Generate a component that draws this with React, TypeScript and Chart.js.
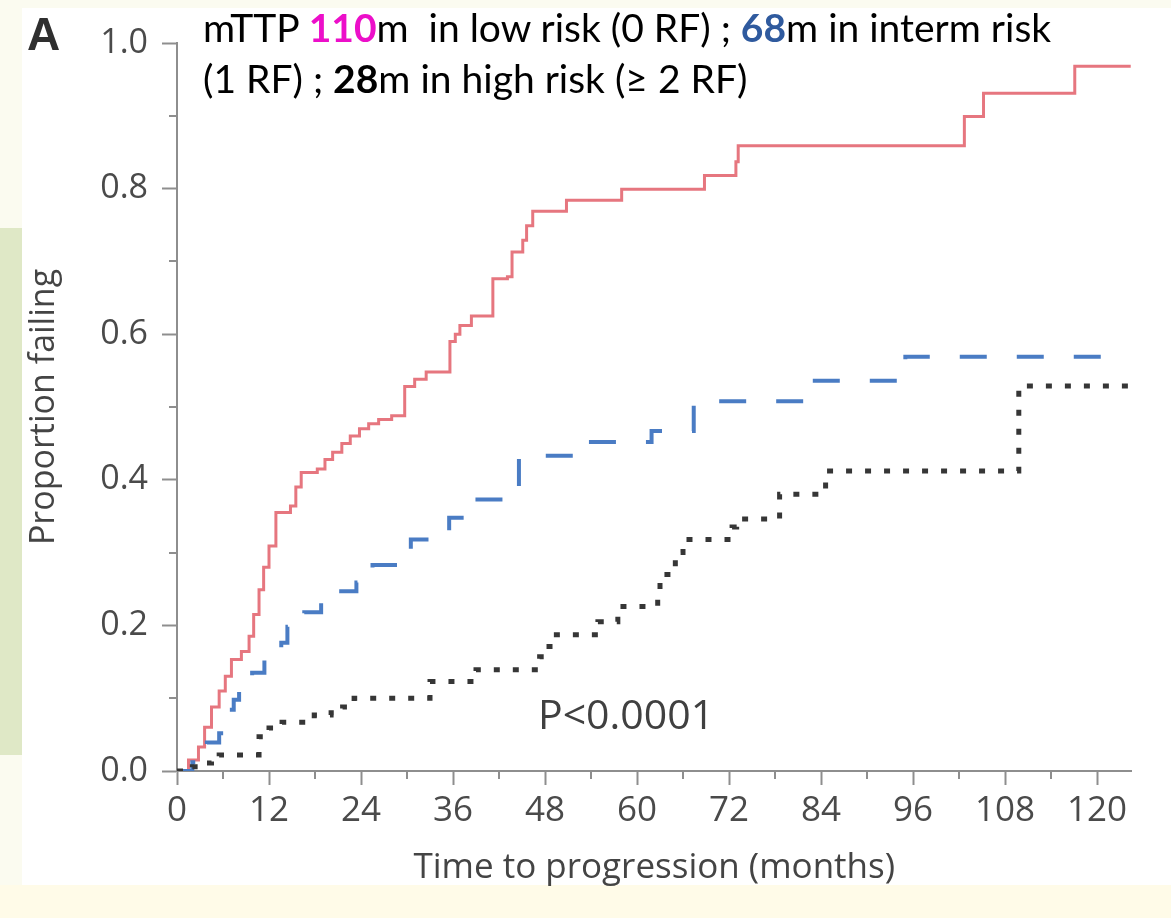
import React, { useEffect, useRef } from 'react';
import { Chart, registerables } from 'chart.js';

Chart.register(...registerables);

// Low risk (0 RF) — Kaplan-Meier step points: month of event, cumulative proportion failing after it
const lowRiskMonths = [0, 1.5, 2.8, 3.6, 4.5, 5.5, 6.3, 7.1, 8.4, 9.4, 10.0, 10.7, 11.3, 12.0, 12.9, 14.8, 15.5, 16.2, 18.3, 19.3, 20.3, 21.5, 22.6, 23.8, 25.0, 26.3, 28.0, 29.7, 31.0, 32.5, 35.6, 36.3, 36.9, 38.4, 41.2, 43.1, 43.7, 45.1, 45.6, 46.4, 50.8, 58.0, 68.8, 72.9, 73.2, 102.7, 105.2, 117.1, 124.4];
const lowRiskProportion = [0, 0.015, 0.033, 0.06, 0.088, 0.11, 0.13, 0.153, 0.164, 0.185, 0.215, 0.249, 0.28, 0.309, 0.355, 0.364, 0.39, 0.41, 0.415, 0.428, 0.438, 0.45, 0.46, 0.47, 0.477, 0.483, 0.488, 0.528, 0.538, 0.548, 0.59, 0.6, 0.612, 0.625, 0.676, 0.679, 0.713, 0.729, 0.749, 0.769, 0.784, 0.799, 0.818, 0.837, 0.859, 0.899, 0.931, 0.968, 0.968];

// Intermediate risk (1 RF)
const intermRiskMonths = [0, 2.0, 3.0, 3.9, 5.5, 6.8, 7.4, 8.1, 9.8, 11.4, 13.6, 14.4, 16.6, 18.8, 20.9, 23.4, 25.5, 30.5, 35.5, 38.3, 44.6, 52.5, 61.9, 67.4, 82.8, 95.0, 124.4];
const intermRiskProportion = [0, 0.012, 0.025, 0.039, 0.052, 0.084, 0.098, 0.112, 0.135, 0.153, 0.176, 0.198, 0.218, 0.231, 0.247, 0.259, 0.283, 0.318, 0.348, 0.373, 0.433, 0.452, 0.467, 0.508, 0.536, 0.569, 0.569];

// High risk (>= 2 RF)
const highRiskMonths = [0, 2.0, 2.8, 4.5, 5.5, 10.7, 12.0, 13.7, 17.9, 20.1, 21.6, 23.1, 33.0, 39.0, 47.3, 48.1, 49.1, 54.9, 57.5, 62.7, 63.0, 64.7, 65.0, 66.0, 72.4, 73.0, 78.6, 84.6, 109.8, 124.4];
const highRiskProportion = [0, 0.006, 0.011, 0.019, 0.022, 0.047, 0.059, 0.067, 0.077, 0.08, 0.088, 0.1, 0.123, 0.139, 0.157, 0.171, 0.187, 0.205, 0.226, 0.247, 0.27, 0.278, 0.3, 0.318, 0.335, 0.346, 0.38, 0.412, 0.529, 0.529];

const xTickValues = [0, 12, 24, 36, 48, 60, 72, 84, 96, 108, 120];
const xMinorTickValues = [6, 18, 30, 42, 54, 66, 78, 90, 102, 114];
const yTickValues = [0, 0.2, 0.4, 0.6, 0.8, 1.0];
const yMinorTickValues = [0.1, 0.3, 0.5, 0.7, 0.9];

const AXIS_COLOR = '#8e8e8e';
const LABEL_COLOR = '#4a4a4a';

const minorTicksPlugin = {
  id: 'minorTicks',
  afterDraw(chart: any) {
    const { ctx, scales } = chart;
    const xs = scales.x;
    const ys = scales.y;
    ctx.save();
    ctx.strokeStyle = AXIS_COLOR;
    ctx.lineWidth = 2;
    ctx.beginPath();
    xMinorTickValues.forEach((v) => {
      const px = Math.round(xs.getPixelForValue(v));
      ctx.moveTo(px, ys.bottom);
      ctx.lineTo(px, ys.bottom + 8);
    });
    yMinorTickValues.forEach((v) => {
      const py = Math.round(ys.getPixelForValue(v));
      ctx.moveTo(xs.left - 8, py);
      ctx.lineTo(xs.left, py);
    });
    ctx.stroke();
    ctx.restore();
  },
};

const toPoints = (xs: number[], ys: number[]) => xs.map((x, i) => ({ x, y: ys[i] }));

export default function App() {
  const canvasRef = useRef<HTMLCanvasElement>(null);

  useEffect(() => {
    const chart = new Chart(canvasRef.current as HTMLCanvasElement, {
      type: 'line',
      data: {
        datasets: [
          {
            label: 'High risk (≥ 2 RF)',
            data: toPoints(highRiskMonths, highRiskProportion),
            borderColor: '#363636',
            borderWidth: 5,
            borderDash: [6, 13],
            borderCapStyle: 'butt',
            stepped: 'before',
            pointRadius: 0,
            fill: false,
          },
          {
            label: 'Intermediate risk (1 RF)',
            data: toPoints(intermRiskMonths, intermRiskProportion),
            borderColor: '#4a7cc4',
            borderWidth: 4,
            borderDash: [27, 30],
            borderCapStyle: 'butt',
            stepped: 'before',
            pointRadius: 0,
            fill: false,
          },
          {
            label: 'Low risk (0 RF)',
            data: toPoints(lowRiskMonths, lowRiskProportion),
            borderColor: '#e6767f',
            borderWidth: 3,
            stepped: 'before',
            pointRadius: 0,
            fill: false,
          },
        ],
      },
      options: {
        responsive: false,
        animation: false,
        layout: { padding: { left: 18, top: 43, right: 39.5, bottom: 29 } },
        plugins: { legend: { display: false }, tooltip: { enabled: false } },
        scales: {
          x: {
            type: 'linear',
            min: 0,
            max: 124.5,
            afterBuildTicks: (s: any) => {
              s.ticks = xTickValues.map((v) => ({ value: v }));
            },
            afterFit: (s: any) => {
              s.height = 118;
            },
            ticks: {
              font: { family: 'Open Sans', size: 35 },
              color: LABEL_COLOR,
              padding: 5,
              maxRotation: 0,
              autoSkip: false,
              callback: (v: any) => String(v),
            },
            grid: { drawOnChartArea: false, drawTicks: true, tickLength: 14, tickColor: AXIS_COLOR, tickWidth: 2 },
            border: { color: AXIS_COLOR, width: 2 },
            title: {
              display: true,
              text: 'Time to progression (months)',
              font: { family: 'Open Sans', size: 35 },
              color: '#444444',
              padding: { top: 0, bottom: 0 },
            },
          },
          y: {
            type: 'linear',
            min: 0,
            max: 1,
            afterBuildTicks: (s: any) => {
              s.ticks = yTickValues.map((v) => ({ value: v }));
            },
            afterFit: (s: any) => {
              s.width = 159;
            },
            ticks: {
              font: { family: 'Open Sans', size: 34 },
              color: LABEL_COLOR,
              padding: 14,
              callback: (v: any) => Number(v).toFixed(1),
            },
            grid: { drawOnChartArea: false, drawTicks: true, tickLength: 15, tickColor: AXIS_COLOR, tickWidth: 2 },
            border: { color: AXIS_COLOR, width: 2 },
            title: {
              display: true,
              text: 'Proportion failing',
              font: { family: 'Open Sans', size: 34 },
              color: '#444444',
              padding: { top: 6, bottom: 0 },
            },
          },
        },
      },
      plugins: [minorTicksPlugin],
    } as any);
    return () => chart.destroy();
  }, []);

  return (
    <div style={{ position: 'absolute', left: 0, top: 0, width: 1171, height: 918, background: '#fbfbf0', overflow: 'hidden' }}>
      <div style={{ position: 'absolute', left: 22, top: 8, width: 1149, height: 877, background: '#ffffff' }} />
      <div style={{ position: 'absolute', left: 0, top: 885, width: 1171, height: 33, background: '#fffbe8' }} />
      <div style={{ position: 'absolute', left: 0, top: 228, width: 22, height: 527, background: '#dfe8c6' }} />
      <canvas ref={canvasRef} width={1171} height={918} style={{ position: 'absolute', left: 0, top: 0 }} />
      <div style={{ position: 'absolute', left: 27, top: 11, fontFamily: 'Liberation Sans, Arial, sans-serif', fontWeight: 700, fontSize: 46, lineHeight: '46px', color: '#2f2f2f' }}>A</div>
      <div style={{ position: 'absolute', left: 203, top: 2, fontFamily: 'Lato, sans-serif', fontSize: 39, lineHeight: '51px', color: '#000', whiteSpace: 'pre' }}>
        <div>
          mTTP <b style={{ color: '#ec0fc9' }}>110</b>m  in low risk (0 RF) ; <b style={{ color: '#2f5a9e' }}>68</b>m in interm risk
        </div>
        <div>
          (1 RF) ; <b>28</b>m in high risk (≥ 2 RF)
        </div>
      </div>
      <div style={{ position: 'absolute', left: 538, top: 693, fontFamily: 'Open Sans, sans-serif', fontSize: 41, lineHeight: '41px', color: '#404040', whiteSpace: 'pre' }}>P&lt;0.0001</div>
    </div>
  );
}
